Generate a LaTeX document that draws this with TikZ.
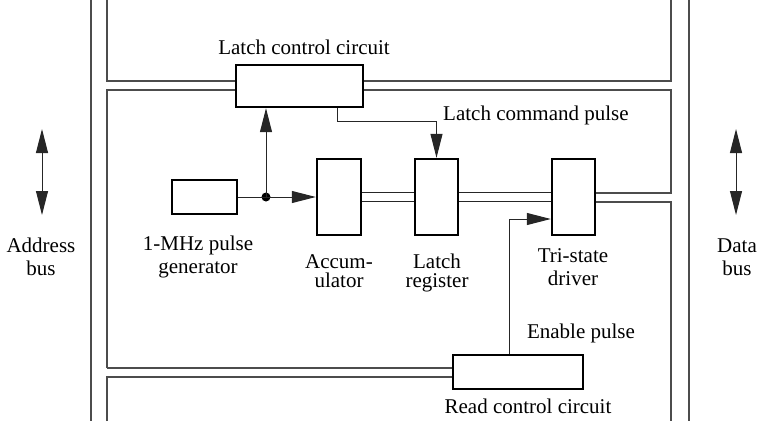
\documentclass[tikz,border=0pt]{standalone}
\usepackage{fontspec}
\setmainfont{Liberation Serif}
\usetikzlibrary{arrows.meta,calc}

\begin{document}
\begin{tikzpicture}[x=1pt, y=-1pt,
  font=\fontsize{21}{23}\selectfont,
  blk/.style={draw, line width=2.4pt, fill=white, inner sep=0pt},
  bus/.style={line width=1.2pt, black!70},
  sig/.style={line width=1pt, black!85},
  arr/.style={sig, -{Triangle[length=24pt,width=12pt]}},
  lbl/.style={align=center, inner sep=0pt, anchor=base},
]
\useasboundingbox (0,0) rectangle (760,421);
\def\yd{4.5pt}   % half gap of the data path

% ---------- bus channels (drawn first, boxes sit on top) ----------
\draw[bus] (91,0) -- (91,421);
\draw[bus] (689,0) -- (689,421);
\draw[bus] (107,0) -- (107,81) -- (671,81) -- (671,0);
\draw[bus] (107,421) -- (107,377) -- (453,377);
\draw[bus] (107,368) -- (107,90) -- (671,90) -- (671,193) -- (595,193);
\draw[bus] (595,202) -- (671,202) -- (671,421);

% ---------- blocks ----------
\node[blk, minimum width=127pt, minimum height=42pt] (latchctl) at (299.5,86) {};
\node[blk, minimum width=65pt, minimum height=34pt] (pulsegen) at (204.5,197) {};
\node[blk, minimum width=44pt, minimum height=76pt] (acc) at (339,197) {};
\node[blk, minimum width=43pt, minimum height=76pt] (latchreg) at (436.5,197) {};
\node[blk, minimum width=43pt, minimum height=76pt] (tristate) at (573.5,197) {};
\node[blk, minimum width=130pt, minimum height=34pt] (readctl) at (518,372) {};

% read channel ends at the read control block
\draw[bus] (107,368) -- (readctl.west |- 0,368);

% data path between the registers
\foreach \s in {\yd,-\yd} {
  \draw[bus, black!85] ([yshift=\s]acc.east) -- ([yshift=\s]latchreg.west);
  \draw[bus, black!85] ([yshift=\s]latchreg.east) -- ([yshift=\s]tristate.west);
}

% ---------- signals ----------
\fill (266,197) circle (4.5pt) coordinate (split);
\draw[sig] (pulsegen.east) -- (split);
\draw[arr] (split) -- (acc.west);
\draw[arr] (split) -- (split |- latchctl.south);
\coordinate (cmd) at (337,121);
\draw[arr] (cmd |- latchctl.south) -- (cmd) -- (latchreg.north |- cmd) -- (latchreg.north);
\coordinate (en) at (509,219);
\draw[arr] (en |- readctl.north) -- (en) -- (tristate.west |- en);

% bus direction arrows
\draw[sig, {Triangle[length=24pt,width=12pt]}-{Triangle[length=24pt,width=12pt]}] (42,129) -- (42,215);
\draw[sig, {Triangle[length=24pt,width=12pt]}-{Triangle[length=24pt,width=12pt]}] (736,129) -- (736,215);

% ---------- labels (base = last line) ----------
\node[lbl] (t-latchctl) at (304,54) {Latch control circuit};
\node[lbl, anchor=base west] (t-cmd) at (443,120) {Latch command pulse};
\node[lbl] (t-pulsegen) at (198,273) {1-MHz pulse\\generator};
\node[lbl] (t-acc) at (339,287) {Accum-\\[-4pt]ulator};
\node[lbl] (t-latchreg) at (437,287) {Latch\\[-4pt]register};
\node[lbl] (t-tristate) at (573,285) {Tri-state\\driver};
\node[lbl] (t-en) at (581,338) {Enable pulse};
\node[lbl] (t-readctl) at (528,413) {Read control circuit};
\node[lbl] (t-addr) at (41,275) {Address\\bus};
\node[lbl] (t-data) at (737,275) {Data\\bus};
\end{tikzpicture}
\end{document}
